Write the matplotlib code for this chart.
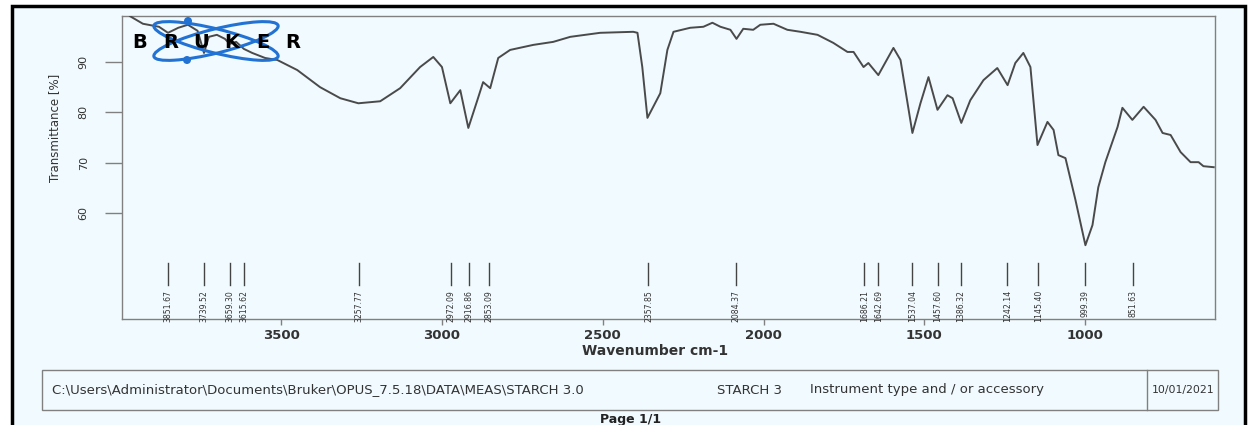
import matplotlib
matplotlib.use("Agg")
import matplotlib.pyplot as plt
import matplotlib.transforms as mtransforms
from matplotlib.patches import Rectangle, Ellipse, Circle

# Spectre IR de l'amidon
wavenumber = [3970, 3930, 3880, 3852, 3820, 3790, 3760, 3740, 3725, 3700,
              3675, 3660, 3640, 3616, 3590, 3550, 3512, 3450, 3379, 3316,
              3260, 3192, 3130, 3068, 3027, 3000, 2974, 2943, 2918, 2890,
              2872, 2850, 2825, 2788, 2716, 2654, 2601, 2508, 2405, 2392,
              2377, 2361, 2343, 2321, 2299, 2280, 2228, 2187, 2159, 2134,
              2103, 2084, 2063, 2032, 2010, 1969, 1926, 1885, 1832, 1783,
              1739, 1720, 1689, 1674, 1643, 1596, 1574, 1537, 1512, 1487,
              1459, 1428, 1412, 1385, 1357, 1316, 1273, 1241, 1217, 1192,
              1170, 1148, 1117, 1098, 1083, 1061, 1030, 999, 977, 959,
              937, 899, 884, 853, 818, 781, 759, 734, 703, 672,
              647, 632, 600]
transmittance = [99.1, 97.6, 97.0, 95.8, 96.8, 97.4, 96.2, 91.8, 95.0, 95.4,
                 94.6, 93.6, 94.0, 92.6, 91.8, 90.8, 90.4, 88.4, 85.0, 82.8,
                 81.8, 82.2, 84.8, 89.0, 91.0, 89.0, 81.8, 84.4, 76.9, 82.4,
                 86.0, 84.8, 90.8, 92.4, 93.4, 94.0, 95.0, 95.8, 96.0, 95.8,
                 89.0, 78.9, 81.1, 83.8, 92.4, 96.0, 96.8, 97.0, 97.8, 97.0,
                 96.4, 94.6, 96.6, 96.4, 97.4, 97.6, 96.4, 96.0, 95.4, 93.8,
                 92.0, 92.0, 89.0, 89.8, 87.4, 92.8, 90.4, 75.9, 81.8, 87.0,
                 80.5, 83.4, 82.8, 77.9, 82.4, 86.4, 88.8, 85.4, 89.8, 91.8,
                 89.0, 73.5, 78.1, 76.5, 71.5, 70.9, 62.6, 53.6, 57.6, 65.1,
                 70.1, 77.1, 80.9, 78.5, 81.1, 78.5, 75.9, 75.5, 72.1, 70.1,
                 70.1, 69.3, 69.1]

peak_positions = [3851.67, 3739.52, 3659.30, 3615.62, 3257.77, 2972.09,
                  2916.86, 2853.09, 2357.85, 2084.37, 1686.21, 1642.69,
                  1537.04, 1457.60, 1386.32, 1242.14, 1145.40, 999.39, 851.63]
peak_labels = ["3851.67", "3739.52", "3659.30", "3615.62", "3257.77", "2972.09",
               "2916.86", "2853.09", "2357.85", "2084.37", "1686.21", "1642.69",
               "1537.04", "1457.60", "1386.32", "1242.14", "1145.40", "999.39",
               "851.63"]

x_ticks = [3500, 3000, 2500, 2000, 1500, 1000]
y_ticks = [60, 70, 80, 90]

footer_path = r"C:\Users\Administrator\Documents\Bruker\OPUS_7.5.18\DATA\MEAS\STARCH 3.0"
footer_sample = "STARCH 3"
footer_instr = "Instrument type and / or accessory"
footer_date = "10/01/2021"

W, H = 1249, 425
bg = "#F1FAFE"
line_col = "#4A4A4A"
frame_col = "#808080"
narrow = ["Liberation Sans Narrow", "DejaVu Sans Condensed", "DejaVu Sans"]


def fx(x):
    return x / W


def fy(y):
    return 1 - y / H


fig = plt.figure(figsize=(W / 100, H / 100), dpi=100, facecolor="white")

# cadre noir de la page
fig.add_artist(Rectangle((fx(12), -0.05), fx(1245 - 12), 1.05 - 6 / H,
                         transform=fig.transFigure, facecolor=bg,
                         edgecolor="black", lw=2.5, zorder=0))

ax = fig.add_axes([fx(122), fy(319), fx(1215 - 122), (319 - 16) / H])
ax.set_facecolor("none")
ax.plot(wavenumber, transmittance, color=line_col, lw=1.4, zorder=3)
ax.set_xlim(3995, 596)
ax.set_ylim(38.94, 99.14)

for s in ax.spines.values():
    s.set_color(frame_col)
    s.set_linewidth(1)

ax.set_xticks(x_ticks)
ax.set_xticklabels([str(t) for t in x_ticks], fontsize=9.5, fontweight="bold",
                   color="#333333", family="DejaVu Sans")
ax.tick_params(axis="x", length=4, width=1, color=frame_col, pad=3)
ax.set_yticks(y_ticks)
ax.set_yticklabels([str(t) for t in y_ticks], fontsize=8, color="#333333",
                   rotation=90, va="center", family=narrow)
ax.tick_params(axis="y", length=12, width=1, color=frame_col, pad=12)

ax.set_ylabel("Transmittance [%]", fontsize=8.5, color="#333333", family=narrow)
ax.yaxis.set_label_coords(-0.056, 0.63)

fig.text(fx(582), fy(351), "Wavenumber cm-1", fontsize=10, fontweight="bold",
         color="#333333", ha="left", va="center", family="DejaVu Sans")

# marques des pics
trans = mtransforms.blended_transform_factory(ax.transData, ax.transAxes)
for pos, lab in zip(peak_positions, peak_labels):
    ax.plot([pos, pos], [0.185, 0.112], transform=trans, color="#444444", lw=1)
    ax.text(pos, 0.096, lab, transform=trans, rotation=90, ha="center",
            va="top", fontsize=5.6, color="#333333", family=narrow)

# logo Bruker
inch = fig.dpi_scale_trans
for ang in (14, -14):
    fig.add_artist(Ellipse((2.16, (H - 41) / 100), 1.28, 0.24, angle=ang,
                           transform=inch, fill=False, edgecolor="#2272D4",
                           lw=2.2, zorder=4))
for (cx, cy) in [(188, 21), (187, 60)]:
    fig.add_artist(Circle((cx / 100, (H - cy) / 100), 0.04, transform=inch,
                          facecolor="#2272D4", edgecolor="none", zorder=5))
for i, ch in enumerate("BRUKER"):
    fig.text(fx(140 + i * 30.6), fy(42), ch, fontsize=14, fontweight="heavy",
             color="black", ha="center", va="center", family="DejaVu Sans",
             zorder=6)

# pied de page
fig.add_artist(Rectangle((fx(42), fy(410)), fx(1218 - 42), (410 - 370) / H,
                         transform=fig.transFigure, fill=False,
                         edgecolor=frame_col, lw=1))
fig.add_artist(plt.Line2D([fx(1147), fx(1147)], [fy(410), fy(370)],
                          transform=fig.transFigure, color=frame_col, lw=1))
fs = 9.5
fig.text(fx(52), fy(390), footer_path, fontsize=fs, color="#333333",
         ha="left", va="center")
fig.text(fx(717), fy(390), footer_sample, fontsize=fs, color="#333333",
         ha="left", va="center")
fig.text(fx(810), fy(390), footer_instr, fontsize=fs, color="#333333",
         ha="left", va="center")
fig.text(fx(1183), fy(390), footer_date, fontsize=7.8, color="#333333",
         ha="center", va="center")
fig.text(fx(631), fy(420), "Page 1/1", fontsize=9, fontweight="bold",
         color="#222222", ha="center", va="center")

fig.savefig("out.png", dpi=100, facecolor="white")
